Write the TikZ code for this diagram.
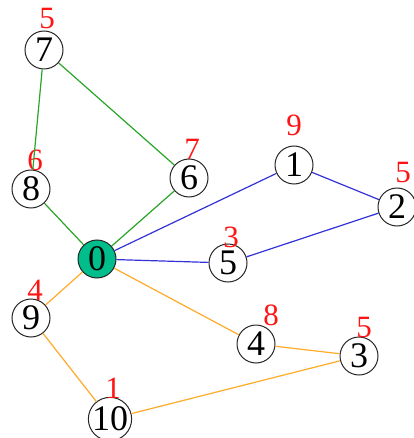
\documentclass[tikz,border=0pt]{standalone}
\usepackage{fontspec}
\setmainfont{Liberation Serif}
\definecolor{eg}{RGB}{40,165,40}
\definecolor{eb}{RGB}{50,50,215}
\definecolor{eo}{RGB}{255,170,40}
\definecolor{teal0}{RGB}{0,190,140}
\definecolor{lab}{RGB}{255,20,20}
\begin{document}
\begin{tikzpicture}[x=1pt,y=-1pt,
  vtx/.style={circle,draw=black!85,line width=1pt,minimum size=38pt,inner sep=0pt,
    font=\fontsize{36}{36}\selectfont},
  wt/.style={text=lab,inner sep=0pt,font=\fontsize{31}{31}\selectfont},
  ge/.style={eg,line width=1.2pt},
  be/.style={eb,line width=1.2pt},
  oe/.style={eo,line width=1.2pt}]
\useasboundingbox (0,0) rectangle (413,438);
\node[vtx] (n7) at (44,50) {7};
\node[vtx] (n8) at (31,189) {8};
\node[vtx] (n6) at (189,178) {6};
\node[vtx] (n1) at (294,165) {1};
\node[vtx] (n2) at (397,207) {2};
\node[vtx] (n5) at (228,263) {5};
\node[vtx,fill=teal0] (n0) at (97,259) {0};
\node[vtx] (n9) at (31,318) {9};
\node[vtx] (n4) at (256,344) {4};
\node[vtx] (n3) at (359,356) {3};
\node[vtx] (n10) at (110,419) {10};
\node[wt] (w7) at (47,19) {5};
\node[wt] (w8) at (35,160) {6};
\node[wt] (w6) at (192,149) {7};
\node[wt] (w1) at (294,125) {9};
\node[wt] (w2) at (403,173) {5};
\node[wt] (w5) at (231,237) {3};
\node[wt] (w9) at (35,290) {4};
\node[wt] (w4) at (271,315) {8};
\node[wt] (w3) at (364,327) {5};
\node[wt] (w10) at (113,388) {1};
\draw[ge] (n7) -- (n8);
\draw[ge] (n7) -- (n6);
\draw[ge] (n8) -- (n0);
\draw[ge] (n0) -- (n6);
\draw[be] (n0) -- (n1);
\draw[be] (n1) -- (n2);
\draw[be] (n2) -- (n5);
\draw[be] (n0) -- (n5);
\draw[oe] (n0) -- (n9);
\draw[oe] (n0) -- (n4);
\draw[oe] (n4) -- (n3);
\draw[oe] (n3) -- (n10);
\draw[oe] (n9) -- (n10);
\end{tikzpicture}
\end{document}
